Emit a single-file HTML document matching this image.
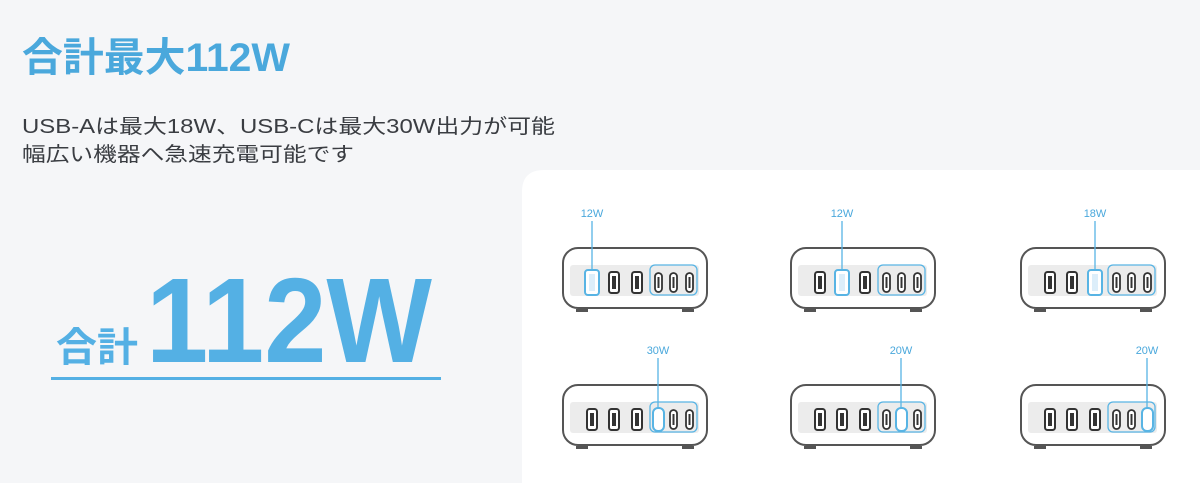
<!DOCTYPE html>
<html><head><meta charset="utf-8"><style>
html,body{margin:0;padding:0;width:1200px;height:483px;overflow:hidden;background:#f5f6f8;font-family:"Liberation Sans","Noto Sans CJK JP",sans-serif;}
svg{display:block;overflow:hidden}
</style></head><body>
<svg width="1200" height="483" viewBox="0 0 1200 483" xmlns="http://www.w3.org/2000/svg" style="position:absolute;left:0;top:0">
<defs>
<g id="ch">
  <rect x="563" y="248" width="144" height="60" rx="15" fill="#fff" stroke="#555" stroke-width="2"/>
  <rect x="576" y="309" width="12" height="3" fill="#555"/>
  <rect x="682" y="309" width="12" height="3" fill="#555"/>
  <rect x="570" y="265" width="129" height="31" rx="3" fill="#ececec"/>
  <rect x="650" y="265" width="47" height="30" rx="5" fill="none" stroke="#58b4e4" stroke-width="1.3"/>
</g>
<g id="pa"><rect x="0" y="0" width="10" height="21" rx="2.5" fill="#fff" stroke="#333" stroke-width="2"/><rect x="3" y="4" width="4" height="13" fill="#333"/></g>
<g id="pc"><rect x="0" y="0" width="7" height="19" rx="3.5" fill="#fff" stroke="#333" stroke-width="1.8"/><rect x="2.5" y="4" width="2" height="11" fill="#333"/></g>
</defs>
<path d="M522 483 L522 192 Q522 170 544 170 L1200 170 L1200 483 Z" fill="#fff"/>
<text x="22" y="71" font-size="40" font-weight="bold" fill="#4aa8dc" font-family="Liberation Sans,Noto Sans CJK JP,sans-serif" textLength="268" lengthAdjust="spacingAndGlyphs">合計最大112W</text>
<text x="22" y="133" font-size="20" fill="#3a3d42" font-family="Liberation Sans,Noto Sans CJK JP,sans-serif" textLength="533" lengthAdjust="spacingAndGlyphs">USB-Aは最大18W、USB-Cは最大30W出力が可能</text>
<text x="22" y="161" font-size="20" fill="#3a3d42" font-family="Liberation Sans,Noto Sans CJK JP,sans-serif" textLength="332" lengthAdjust="spacingAndGlyphs">幅広い機器へ急速充電可能です</text>
<text x="56" y="361" font-size="40" font-weight="bold" fill="#54b0e4" font-family="Liberation Sans,Noto Sans CJK JP,sans-serif" textLength="82" lengthAdjust="spacingAndGlyphs">合計</text>
<text x="146" y="362" font-size="121" font-weight="bold" fill="#54b0e4" font-family="Liberation Sans,sans-serif" textLength="286" lengthAdjust="spacingAndGlyphs">112W</text>
<rect x="51" y="377" width="390" height="3" fill="#54b0e4"/>
<g font-family="Liberation Sans,sans-serif" font-size="11" fill="#4aa8dc">
<g transform="translate(0,0)"><use href="#ch"/><use href="#pa" x="587" y="272"/><use href="#pa" x="609" y="272"/><use href="#pa" x="632" y="272"/><use href="#pc" x="655" y="273"/><use href="#pc" x="670" y="273"/><use href="#pc" x="686" y="273"/>
<rect x="585" y="270" width="14" height="25" rx="3" fill="#fff" stroke="#58b4e4" stroke-width="2"/><rect x="589" y="274" width="6" height="17" fill="#dceefa"/>
<line x1="592" y1="221" x2="592" y2="270" stroke="#58b4e4" stroke-width="1.3"/><text x="592" y="217" text-anchor="middle">12W</text></g>
<g transform="translate(228,0)"><use href="#ch"/><use href="#pa" x="587" y="272"/><use href="#pa" x="609" y="272"/><use href="#pa" x="632" y="272"/><use href="#pc" x="655" y="273"/><use href="#pc" x="670" y="273"/><use href="#pc" x="686" y="273"/>
<rect x="607" y="270" width="14" height="25" rx="3" fill="#fff" stroke="#58b4e4" stroke-width="2"/><rect x="611" y="274" width="6" height="17" fill="#dceefa"/>
<line x1="614" y1="221" x2="614" y2="270" stroke="#58b4e4" stroke-width="1.3"/><text x="614" y="217" text-anchor="middle">12W</text></g>
<g transform="translate(458,0)"><use href="#ch"/><use href="#pa" x="587" y="272"/><use href="#pa" x="609" y="272"/><use href="#pa" x="632" y="272"/><use href="#pc" x="655" y="273"/><use href="#pc" x="670" y="273"/><use href="#pc" x="686" y="273"/>
<rect x="630" y="270" width="14" height="25" rx="3" fill="#fff" stroke="#58b4e4" stroke-width="2"/><rect x="634" y="274" width="6" height="17" fill="#dceefa"/>
<line x1="637" y1="221" x2="637" y2="270" stroke="#58b4e4" stroke-width="1.3"/><text x="637" y="217" text-anchor="middle">18W</text></g>
<g transform="translate(0,137)"><use href="#ch"/><use href="#pa" x="587" y="272"/><use href="#pa" x="609" y="272"/><use href="#pa" x="632" y="272"/><use href="#pc" x="655" y="273"/><use href="#pc" x="670" y="273"/><use href="#pc" x="686" y="273"/>
<rect x="653" y="271" width="11" height="23" rx="5" fill="#fff" stroke="#58b4e4" stroke-width="2"/>
<line x1="658" y1="221" x2="658" y2="271" stroke="#58b4e4" stroke-width="1.3"/><text x="658" y="217" text-anchor="middle">30W</text></g>
<g transform="translate(228,137)"><use href="#ch"/><use href="#pa" x="587" y="272"/><use href="#pa" x="609" y="272"/><use href="#pa" x="632" y="272"/><use href="#pc" x="655" y="273"/><use href="#pc" x="670" y="273"/><use href="#pc" x="686" y="273"/>
<rect x="668" y="271" width="11" height="23" rx="5" fill="#fff" stroke="#58b4e4" stroke-width="2"/>
<line x1="673" y1="221" x2="673" y2="271" stroke="#58b4e4" stroke-width="1.3"/><text x="673" y="217" text-anchor="middle">20W</text></g>
<g transform="translate(458,137)"><use href="#ch"/><use href="#pa" x="587" y="272"/><use href="#pa" x="609" y="272"/><use href="#pa" x="632" y="272"/><use href="#pc" x="655" y="273"/><use href="#pc" x="670" y="273"/><use href="#pc" x="686" y="273"/>
<rect x="684" y="271" width="11" height="23" rx="5" fill="#fff" stroke="#58b4e4" stroke-width="2"/>
<line x1="689" y1="221" x2="689" y2="271" stroke="#58b4e4" stroke-width="1.3"/><text x="689" y="217" text-anchor="middle">20W</text></g>
</g>
</svg>
</body></html>
